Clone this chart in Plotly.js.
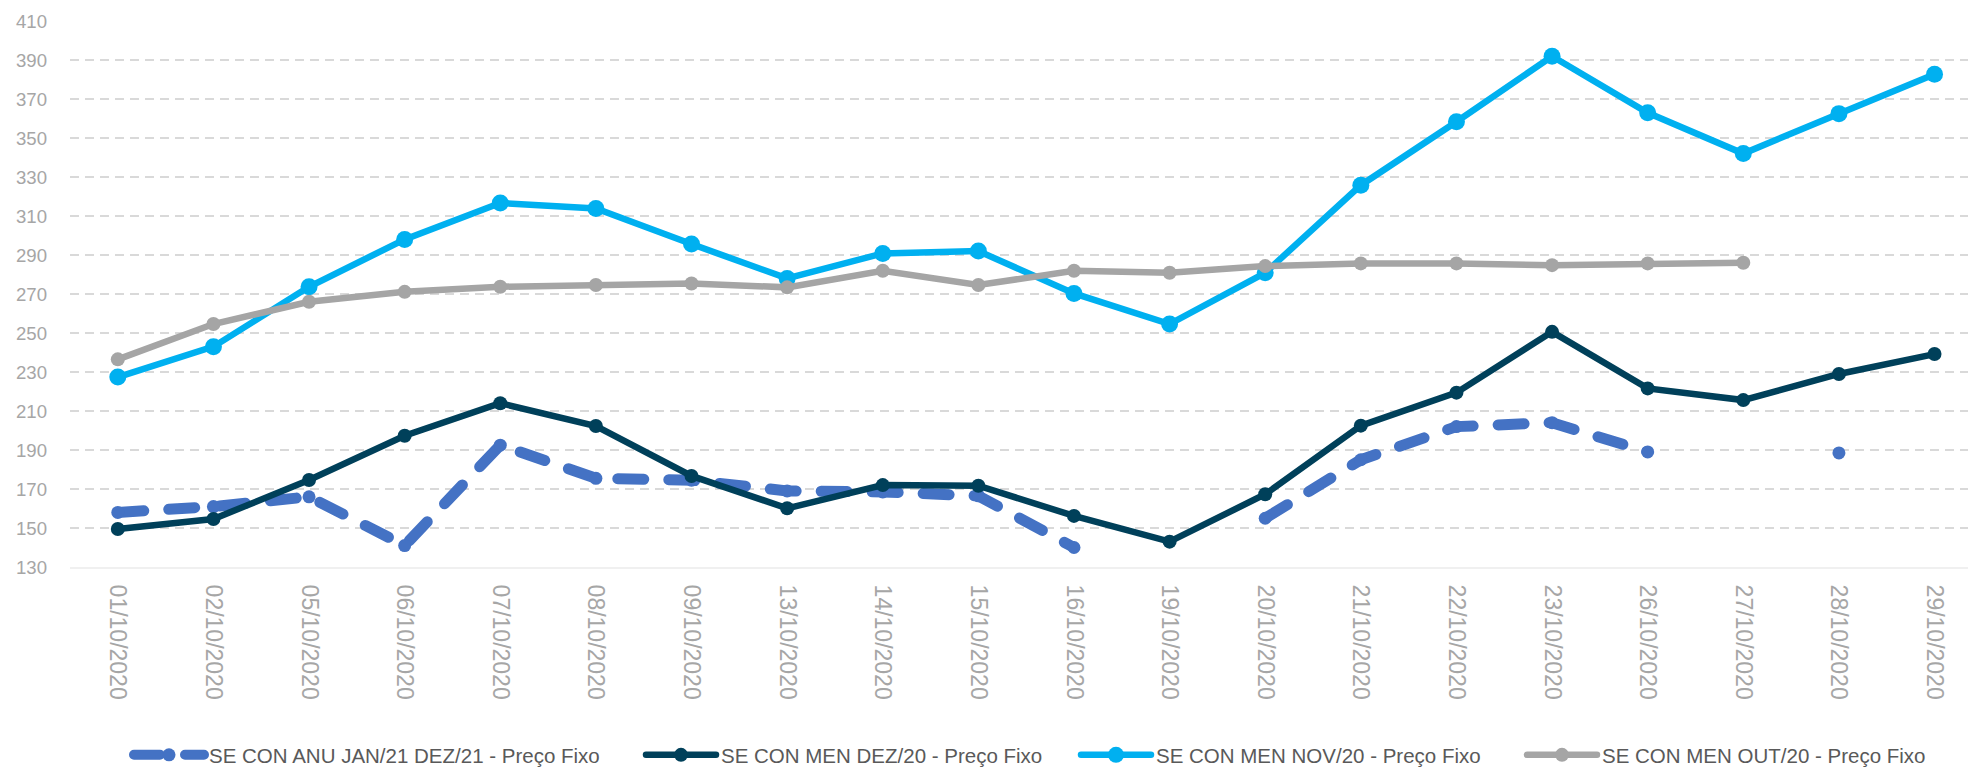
<!DOCTYPE html>
<html>
<head>
<meta charset="utf-8">
<script src="https://cdn.plot.ly/plotly-3.0.1.min.js"></script>
<style>
  html, body { margin: 0; padding: 0; background: #ffffff; }
  #chart { width: 1968px; height: 769px; }
  .scatterlayer .js-line, .legendlines path { stroke-linecap: round; }
</style>
</head>
<body>
<div id="chart"></div>
<script>
const dates = ['01/10/2020','02/10/2020','05/10/2020','06/10/2020','07/10/2020','08/10/2020','09/10/2020','13/10/2020','14/10/2020','15/10/2020','16/10/2020','19/10/2020','20/10/2020','21/10/2020','22/10/2020','23/10/2020','26/10/2020','27/10/2020','28/10/2020','29/10/2020'];

const seriesNames = ['SE CON ANU JAN/21 DEZ/21 - Preço Fixo','SE CON MEN DEZ/20 - Preço Fixo','SE CON MEN NOV/20 - Preço Fixo','SE CON MEN OUT/20 - Preço Fixo'];

const anuJan21Dez21 = [158, 161, 166, 141, 192.5, 175.5, 174.5, 169, 168.5, 166.5, 140, null, 155, 185, 202, 204, 189, null, 188.5, null];
const menDez20 = [149.5, 154.6, 174.6, 197.3, 214, 202.3, 176.7, 160.1, 172, 171.7, 156.2, 143, 167.3, 202.5, 219.4, 250.6, 221.6, 215.6, 229, 239.2];
const menNov20 = [227.4, 243, 273.7, 298, 316.7, 313.9, 295.6, 278, 290.8, 292, 270.3, 254.6, 280.9, 325.8, 358.3, 391.9, 362.9, 342, 362.5, 382.7];
const menOut20 = [236.5, 254.6, 266, 271.1, 273.7, 274.6, 275.4, 273.4, 281.9, 274.6, 281.9, 280.9, 284.3, 285.7, 285.7, 284.8, 285.7, 286, null, null];

const yTicks = [130, 150, 170, 190, 210, 230, 250, 270, 290, 310, 330, 350, 370, 390, 410];

const traces = [
  {
    x: dates, y: anuJan21Dez21, name: seriesNames[0], type: 'scatter', mode: 'lines+markers',
    line: { color: '#4472C4', width: 11, dash: '26px,25px' },
    marker: { color: '#4472C4', size: 13, symbol: 'circle' },
    connectgaps: false, legend: 'legend'
  },
  {
    x: dates, y: menDez20, name: seriesNames[1], type: 'scatter', mode: 'lines+markers',
    line: { color: '#00405A', width: 6.5 },
    marker: { color: '#00405A', size: 14, symbol: 'circle' },
    legend: 'legend2'
  },
  {
    x: dates, y: menNov20, name: seriesNames[2], type: 'scatter', mode: 'lines+markers',
    line: { color: '#00B0F0', width: 6.5 },
    marker: { color: '#00B0F0', size: 17, symbol: 'circle' },
    legend: 'legend3'
  },
  {
    x: dates, y: menOut20, name: seriesNames[3], type: 'scatter', mode: 'lines+markers',
    line: { color: '#A5A5A5', width: 6.5 },
    marker: { color: '#A5A5A5', size: 14, symbol: 'circle' },
    connectgaps: false, legend: 'legend4'
  }
];

const legendFont = { family: 'Liberation Sans, Arial, sans-serif', size: 20.5, color: '#595959' };
function leg(xPx) {
  return { x: xPx / 1968, y: 1 - 755 / 769, xref: 'container', yref: 'container', xanchor: 'left', yanchor: 'middle',
           orientation: 'h', font: legendFont, itemwidth: 70, bgcolor: 'rgba(0,0,0,0)', borderwidth: 0 };
}

const layout = {
  width: 1968, height: 769,
  margin: { l: 70, r: 0, t: 21, b: 202, pad: 0 },
  paper_bgcolor: '#ffffff', plot_bgcolor: '#ffffff',
  showlegend: true,
  hovermode: false,
  xaxis: {
    type: 'category',
    range: [-0.5, 19.35],
    tickangle: 90,
    ticks: '', ticklen: 0,
    ticklabelstandoff: 11,
    tickfont: { family: 'Liberation Sans, Arial, sans-serif', size: 23, color: '#A6A6A6' },
    showgrid: false,
    showline: true, linecolor: '#F0F0F0', linewidth: 2,
    zeroline: false, fixedrange: true, automargin: false
  },
  yaxis: {
    range: [130, 410],
    tickvals: yTicks,
    ticktext: yTicks.map(String),
    ticks: '', ticklen: 0,
    ticklabelstandoff: 22,
    tickfont: { family: 'Liberation Sans, Arial, sans-serif', size: 18.6, color: '#A6A6A6' },
    showgrid: true, gridcolor: '#D9D9D9', gridwidth: 2, griddash: '9px,6px',
    showline: false, zeroline: false, fixedrange: true, automargin: false
  },
  legend: leg(129),
  legend2: leg(641),
  legend3: leg(1076),
  legend4: leg(1522)
};

Plotly.newPlot('chart', traces, layout, { displayModeBar: false, staticPlot: true });
</script>
</body>
</html>
